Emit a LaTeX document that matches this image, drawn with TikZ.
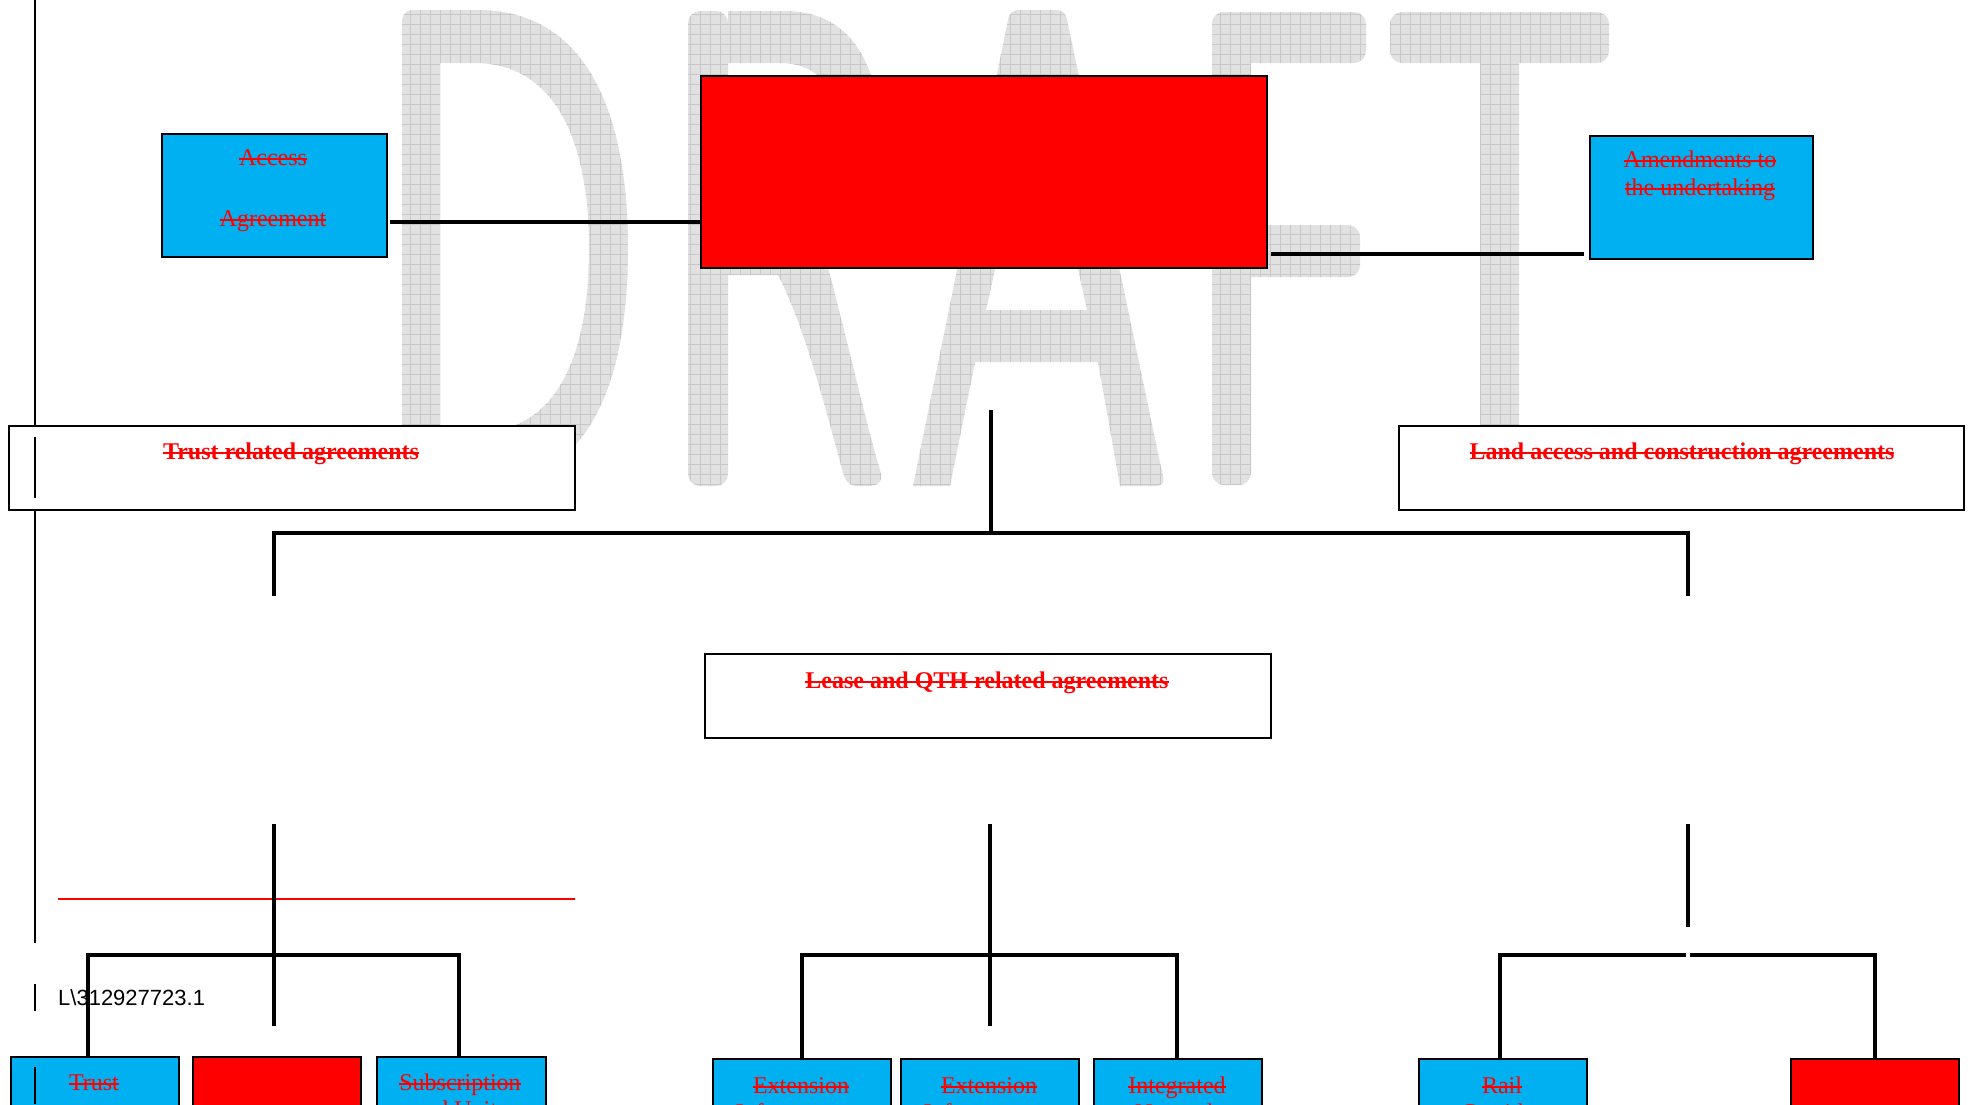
\documentclass[tikz,border=0pt]{standalone}
\usepackage{fontspec}
\setmainfont{Liberation Serif}
\newfontfamily\arialfont{Liberation Sans}
\usetikzlibrary{patterns.meta}
\newcommand{\skout}[1]{\setbox0\hbox{#1}\rlap{\rule[0.22em]{\wd0}{1.8pt}}\box0}
\definecolor{boxblue}{HTML}{00B0F0}
\definecolor{wmgray}{HTML}{E1E1E1}
\definecolor{wmline}{HTML}{C8C8C8}
\begin{document}
\begin{tikzpicture}[x=1pt,y=-1pt,
  box/.style={draw=black, line width=2.2pt, inner sep=0pt, anchor=north west},
  bluebox/.style={box, fill=boxblue},
  redbox/.style={box, fill=red},
  whitebox/.style={box, fill=white},
  conn/.style={draw=black, line width=3.5pt},
  margin/.style={draw=black, line width=2pt},
  lbl/.style={text=red, font=\fontsize{24}{28}\selectfont, inner sep=0pt, anchor=base},
  blbl/.style={lbl, font=\fontsize{24}{28}\selectfont\bfseries},
  wmfill/.style={fill=wmgray,
    postaction={pattern={Lines[distance=10pt,angle=0,line width=0.8pt]}, pattern color=wmline},
    postaction={pattern={Lines[distance=10pt,angle=90,line width=0.8pt]}, pattern color=wmline}}]
\useasboundingbox (0,0) rectangle (1970,1104);
\clip (0,0) rectangle (1970,1104);
\fill[white] (0,0) rectangle (1970,1104);

% DRAFT watermark
% D
\path[wmfill, even odd rule] (414,10) -- (478,10) .. controls (585,10) and (628,110) .. (628,248) .. controls (628,390) and (585,486) .. (478,486) -- (414,486) .. controls (406,486) and (402,482) .. (402,474) -- (402,22) .. controls (402,14) and (406,10) .. (414,10) -- cycle
  (440,63) -- (474,63) .. controls (555,63) and (589,140) .. (589,248) .. controls (589,360) and (555,433) .. (474,433) -- (440,433) -- cycle;
% R
\path[wmfill, even odd rule] (700,11) -- (785,11) .. controls (848,11) and (880,60) .. (880,140) .. controls (880,222) and (845,275) .. (785,275) -- (728,275) -- (728,222) -- (780,222) .. controls (825,222) and (842,185) .. (842,140) .. controls (842,100) and (825,63) .. (780,63) -- (728,63) -- (728,11) -- cycle;
\path[wmfill] (770,260) -- (826,260) .. controls (845,330) and (865,420) .. (880,470) .. controls (884,482) and (878,486) .. (868,486) -- (858,486) .. controls (850,486) and (846,482) .. (844,476) .. controls (828,420) and (805,320) .. (770,260) -- cycle;
\path[wmfill, rounded corners=12pt] (688,11) rectangle (728,486);
% A
\path[wmfill, even odd rule] (913,486) [rounded corners=8pt] -- (1010,10) -- (1065,10) -- (1165,486) [sharp corners] -- (1120,486) -- (1098,362) -- (975,362) -- (950,486) -- cycle
  (986,310) -- (1037,80) -- (1087,310) -- cycle;
% F
\path[wmfill, rounded corners=12pt] (1212,12) rectangle (1251,485);
\path[wmfill, rounded corners=12pt] (1212,12) rectangle (1366,63);
\path[wmfill, rounded corners=12pt] (1212,225) rectangle (1360,277);
% T
\path[wmfill, rounded corners=12pt] (1390,12) rectangle (1609,63);
\path[wmfill, rounded corners=12pt] (1480,12) rectangle (1519,485);

% left margin bar
\draw[margin] (35,0) -- (35,943);
\draw[margin] (35,984) -- (35,1011);

% top row
\node[bluebox, minimum width=225pt, minimum height=123pt] (access) at (161,133) {};
\node[redbox, minimum width=566pt, minimum height=192pt] (top) at (700,75) {};
\node[bluebox, minimum width=223pt, minimum height=123pt] (amend) at (1589,135) {};
\node[lbl] (accessA) at (273,165) {\skout{Access}};
\node[lbl] (accessB) at (273,226) {\skout{Agreement}};
\node[lbl] (amendA) at (1700,167) {\skout{Amendments to}};
\node[lbl] (amendB) at (1700,195) {\skout{the undertaking}};
\draw[conn] ([xshift=2pt]access.east |- 0,222) -- (top.west |- 0,222);
\draw[conn] ([xshift=3pt]top.east |- 0,254) -- ([xshift=-5pt]amend.west |- 0,254);

% category boxes
\node[whitebox, minimum width=566pt, minimum height=84pt] (trustrel) at (8,425) {};
\node[whitebox, minimum width=565pt, minimum height=84pt] (land) at (1398,425) {};
\node[whitebox, minimum width=566pt, minimum height=84pt] (lease) at (704,653) {};
\node[blbl] (trustrelT) at (291,459) {\skout{Trust related agreements}};
\node[blbl] (landT) at (1682,459) {\skout{Land access and construction agreements}};
\node[blbl] (leaseT) at (987,688) {\skout{Lease and QTH related agreements}};
\draw[margin] (35,437) -- (35,498);

% main tree
\coordinate (tTop) at (991,410);
\coordinate (jTop) at (991,533);
\coordinate (jL) at (274,533);
\coordinate (jR) at (1688,533);
\coordinate (dL) at (274,596);
\coordinate (dR) at (1688,596);
\draw[conn] (tTop) -- (jTop);
\draw[conn] (dL) -- (jL) -- (jR) -- (dR);

\coordinate (vLa) at (274,824);
\coordinate (vLb) at (274,1026);
\coordinate (vMa) at (990,824);
\coordinate (vMb) at (990,1026);
\coordinate (vRa) at (1688,824);
\coordinate (vRb) at (1688,927);

% red rule
\coordinate (rA) at (58,899);
\coordinate (rB) at (575,899);
\draw[red, line width=2pt] (rA) -- (rB);

% bottom boxes
\node[bluebox, minimum width=168pt, minimum height=80pt] (btrust) at (10,1056) {};
\node[redbox, minimum width=168pt, minimum height=80pt] (bred) at (192,1056) {};
\node[bluebox, minimum width=169pt, minimum height=80pt] (bsub) at (376,1056) {};
\node[bluebox, minimum width=178pt, minimum height=80pt] (bext1) at (712,1058) {};
\node[bluebox, minimum width=178pt, minimum height=80pt] (bext2) at (900,1058) {};
\node[bluebox, minimum width=168pt, minimum height=80pt] (binteg) at (1093,1058) {};
\node[bluebox, minimum width=168pt, minimum height=80pt] (brail) at (1418,1058) {};
\node[redbox, minimum width=168pt, minimum height=80pt] (bred2) at (1790,1058) {};

\node[lbl] (btrustT) at (94,1090) {\skout{Trust}};
\node[lbl] (bsubT) at (460,1090) {\skout{Subscription}};
\node[lbl] (bsubT2) at (460,1117) {and Units};
\node[lbl] (bext1T) at (801,1093) {\skout{Extension}};
\node[lbl] (bext1T2) at (801,1120) {Infrastructure};
\node[lbl] (bext2T) at (989,1093) {\skout{Extension}};
\node[lbl] (bext2T2) at (989,1120) {Infrastructure};
\node[lbl] (bintegT) at (1177,1093) {\skout{Integrated}};
\node[lbl] (bintegT2) at (1177,1120) {Network};
\node[lbl] (brailT) at (1502,1093) {\skout{Rail}};
\node[lbl] (brailT2) at (1502,1120) {Corridor};

% group connectors
\draw[conn] (vLa) -- (vLb);
\draw[conn] (vMa) -- (vMb);
\draw[conn] (vRa) -- (vRb);
\draw[conn] (btrust.north -| 88,0) -- (88,955) -- (459,955) -- (bsub.north -| 459,0);
\draw[conn] (bext1.north -| 802,0) -- (802,955) -- (1177,955) -- (binteg.north -| 1177,0);
\draw[conn] (brail.north -| 1500,0) -- (1500,955) -- (1686,955);
\draw[conn] (1690,955) -- (1875,955) -- (bred2.north -| 1875,0);

% document reference
\node[font=\arialfont\fontsize{22}{26}\selectfont, inner sep=0pt, anchor=base west] (docref) at (58,1005) {L\textbackslash 312927723.1};

\draw[margin] (35,1067) -- (35,1104);
\end{tikzpicture}
\end{document}
